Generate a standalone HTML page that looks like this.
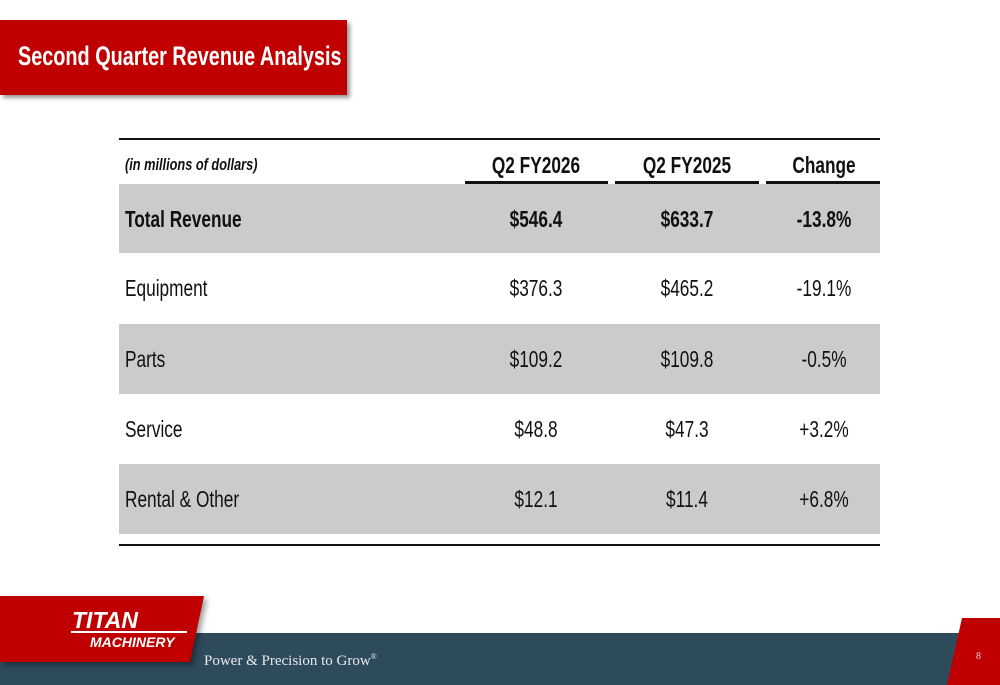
<!DOCTYPE html>
<html><head><meta charset="utf-8"><style>
body{margin:0;width:1000px;height:685px;overflow:hidden;background:#fff;position:relative;font-family:"Liberation Sans",sans-serif;}
.abs{position:absolute}
.row{position:absolute;left:119px;width:761px;height:70px;font-size:23px;color:#111}
.row span{position:absolute;top:0;line-height:70px;white-space:nowrap;transform:scaleX(0.75)}
.lbl{left:6px;transform-origin:left center}
.c1,.c2,.c3{text-align:center;transform-origin:center center}
.c1{left:346px;width:142px}.c2{left:496px;width:144px}.c3{left:649px;width:112px}
.g{background:#cbcbcb}
.b{font-weight:bold}
</style></head><body>
<div class="abs" style="left:0;top:20px;width:347px;height:75px;background:#c00000;box-shadow:3px 3px 4px rgba(0,0,0,.4);color:#fff;font-weight:bold;font-size:27px;line-height:72px;white-space:nowrap"><div style="position:absolute;left:18px;top:0;transform:scaleX(0.735);transform-origin:left center">Second Quarter Revenue Analysis</div></div>

<div class="abs" style="left:119px;top:138px;width:761px;height:2px;background:#111"></div>
<div class="row" style="top:147px;height:36px">
<span class="lbl" style="line-height:36px;font-size:17px;font-style:italic;font-weight:bold">(in millions of dollars)</span>
<span class="c1 b" style="line-height:36px">Q2 FY2026</span>
<span class="c2 b" style="line-height:36px">Q2 FY2025</span>
<span class="c3 b" style="line-height:36px">Change</span>
</div>
<div class="abs" style="left:465px;top:181px;width:143px;height:3px;background:#111"></div>
<div class="abs" style="left:615px;top:181px;width:144px;height:3px;background:#111"></div>
<div class="abs" style="left:766px;top:181px;width:114px;height:3px;background:#111"></div>

<div class="row g b" style="top:184px;height:69px"><span class="lbl">Total Revenue</span><span class="c1">$546.4</span><span class="c2">$633.7</span><span class="c3">-13.8%</span></div>
<div class="row" style="top:253px;height:71px"><span class="lbl" style="line-height:71px">Equipment</span><span class="c1" style="line-height:71px">$376.3</span><span class="c2" style="line-height:71px">$465.2</span><span class="c3" style="line-height:71px">-19.1%</span></div>
<div class="row g" style="top:324px"><span class="lbl">Parts</span><span class="c1">$109.2</span><span class="c2">$109.8</span><span class="c3">-0.5%</span></div>
<div class="row" style="top:394px"><span class="lbl">Service</span><span class="c1">$48.8</span><span class="c2">$47.3</span><span class="c3">+3.2%</span></div>
<div class="row g" style="top:464px"><span class="lbl">Rental &amp; Other</span><span class="c1">$12.1</span><span class="c2">$11.4</span><span class="c3">+6.8%</span></div>
<div class="abs" style="left:119px;top:544px;width:761px;height:2px;background:#111"></div>

<div class="abs" style="left:0;top:633px;width:1000px;height:52px;background:#2e4b5c"></div>
<svg class="abs" style="left:0;top:0" width="1000" height="685">
<polygon points="0,596 204,596 190,662 0,662" fill="#c00000" style="filter:drop-shadow(3px 3px 3px rgba(0,0,0,.4))"/>
<line x1="71" y1="632" x2="187" y2="632" stroke="#fff" stroke-width="2"/>
<text x="72" y="628" fill="#fff" font-family="Liberation Sans" font-weight="bold" font-style="italic" font-size="23">TITAN</text>
<text x="90" y="647" fill="#fff" font-family="Liberation Sans" font-weight="bold" font-style="italic" font-size="14">MACHINERY</text>
<text x="204" y="665" fill="#e8e8e8" font-family="Liberation Serif" font-size="15">Power &amp; Precision to Grow<tspan font-size="8" dy="-6">®</tspan></text>
<polygon points="962,618 1000,618 1000,685 947,685" fill="#c00000"/>
<text x="976" y="659" fill="#f0d0d0" font-family="Liberation Serif" font-size="10">8</text>
</svg>
</body></html>
